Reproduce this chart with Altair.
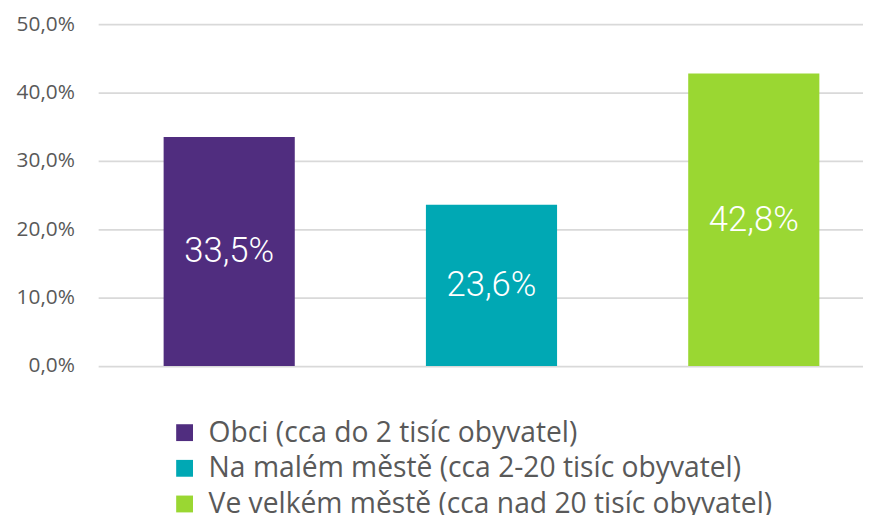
import altair as alt
import pandas as pd

categories = [
    "Obci (cca do 2 tisíc obyvatel)",
    "Na malém městě (cca 2-20 tisíc obyvatel)",
    "Ve velkém městě (cca nad 20 tisíc obyvatel)",
]
values = [33.5, 23.6, 42.8]
colors = ["#502D7F", "#00A8B4", "#9AD732"]
y_ticks = [0, 10, 20, 30, 40, 50]

df = pd.DataFrame({"cat": categories, "value": values})

x_scale = alt.Scale(paddingInner=0.5, paddingOuter=0.208, align=0.6)

bars = alt.Chart(df).mark_bar().encode(
    x=alt.X("cat:N", sort=categories, axis=None, scale=x_scale),
    y=alt.Y(
        "value:Q",
        scale=alt.Scale(domain=[0, 50], nice=False),
        axis=alt.Axis(
            values=y_ticks,
            labelExpr="replace(format(datum.value, '.1f'), '.', ',') + '%'",
            title=None,
            domain=False,
            ticks=False,
            labelPadding=24,
            labelFont="Open Sans",
            labelFontSize=21,
            labelColor="#595959",
            grid=True,
            gridColor="#D9D9D9",
            gridWidth=1.8,
        ),
    ),
    color=alt.Color(
        "cat:N",
        sort=categories,
        scale=alt.Scale(domain=categories, range=colors),
        legend=alt.Legend(
            title=None,
            orient="none",
            legendX=73,
            legendY=398,
            direction="vertical",
            symbolType="square",
            symbolSize=289,
            symbolStrokeWidth=0,
            symbolOpacity=1,
            labelFont="Open Sans",
            labelFontSize=28.5,
            labelColor="#595959",
            labelOffset=10,
            labelLimit=0,
            rowPadding=7,
        ),
    ),
)

labels = alt.Chart(df).transform_calculate(
    mid="datum.value / 2",
    lbl="replace(format(datum.value, '.1f'), '.', ',') + '%'",
).mark_text(
    color="white",
    font="Roboto",
    fontWeight=300,
    fontSize=35,
    baseline="middle",
    align="center",
).encode(
    x=alt.X("cat:N", sort=categories, axis=None, scale=x_scale),
    y=alt.Y("mid:Q"),
    text="lbl:N",
)

chart = (
    alt.layer(bars, labels)
    .properties(
        width=772,
        height=345,
        padding={"left": 91, "top": 14, "right": 0, "bottom": 148},
        autosize=alt.AutoSizeParams(type="none"),
        background="white",
    )
    .configure_view(stroke=None)
)

chart.save("out.html", embed_options={"renderer": "svg", "actions": False})
